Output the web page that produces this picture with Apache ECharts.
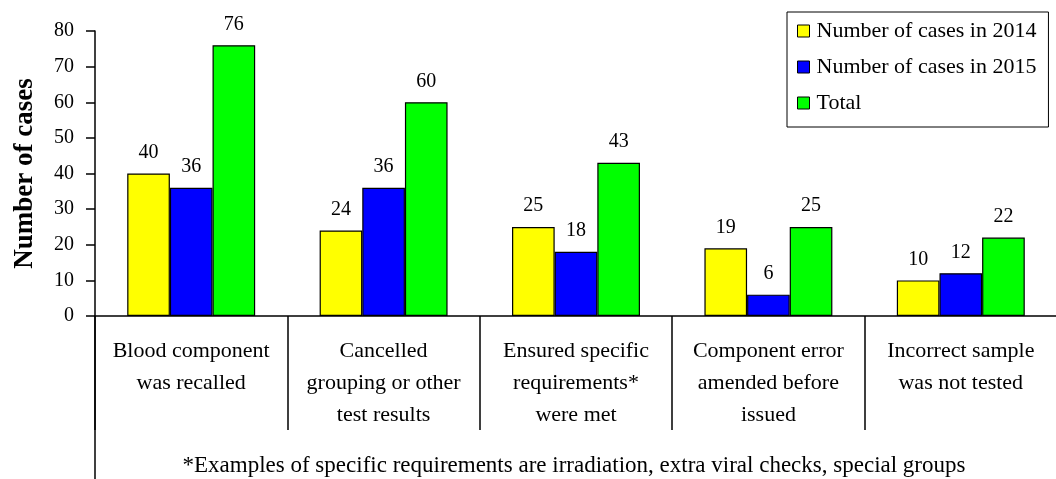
<!DOCTYPE html>
<html>
<head>
<meta charset="utf-8">
<script src="https://cdn.jsdelivr.net/npm/echarts@6/dist/echarts.min.js"></script>
<style>
  html, body { margin: 0; padding: 0; background: #fff; }
  #main { width: 1056px; height: 479px; }
</style>
</head>
<body>
<div id="main"></div>
<script>
var categories = [
  "Blood component\nwas recalled",
  "Cancelled\ngrouping or other\ntest results",
  "Ensured specific\nrequirements*\nwere met",
  "Component error\namended before\nissued",
  "Incorrect sample\nwas not tested"
];
var cases2014 = [40, 24, 25, 19, 10];
var cases2015 = [36, 36, 18, 6, 12];
var casesTotal = [76, 60, 43, 25, 22];
var seriesNames = ["Number of cases in 2014", "Number of cases in 2015", "Total"];
var seriesColors = ["#ffff00", "#0000ff", "#00ff00"];
var footnote = "*Examples of specific requirements are irradiation, extra viral checks, special groups";

var font = "Liberation Serif";
var seriesData = [cases2014, cases2015, casesTotal];

var myChart = echarts.init(document.getElementById("main"));

var option = {
  animation: false,
  textStyle: { fontFamily: font, color: "#000" },
  grid: { left: 95, right: -1, top: 31, bottom: 163, containLabel: false, outerBoundsMode: "none" },
  legend: {
    orient: "vertical",
    left: 787,
    top: 12,
    padding: [8, 12, 13, 10],
    itemGap: 14,
    itemWidth: 12,
    itemHeight: 12,
    borderColor: "#000",
    borderWidth: 1,
    icon: "rect",
    itemStyle: { borderColor: "#000", borderWidth: 1 },
    textStyle: { fontFamily: font, fontSize: 22, color: "#000", padding: [0, 0, 0, 2] },
    data: seriesNames
  },
  xAxis: {
    type: "category",
    data: categories,
    axisLine: { lineStyle: { color: "#000", width: 1.5 } },
    axisTick: { show: true, length: 114, lineStyle: { color: "#000", width: 1.5 } },
    axisLabel: {
      fontFamily: font,
      fontSize: 22,
      color: "#000",
      lineHeight: 32,
      margin: 19,
      interval: 0
    }
  },
  yAxis: {
    type: "value",
    min: 0,
    max: 80,
    interval: 10,
    name: "Number of cases",
    nameLocation: "middle",
    nameRotate: 90,
    nameGap: 56,
    nameTextStyle: { fontFamily: font, fontSize: 27, fontWeight: "bold", color: "#000" },
    splitLine: { show: false },
    axisLine: { show: true, lineStyle: { color: "#000", width: 1.5 } },
    axisTick: { show: true, length: 9, lineStyle: { color: "#000", width: 1.5 } },
    axisLabel: { fontFamily: font, fontSize: 20, color: "#000", margin: 21 }
  },
  series: seriesNames.map(function (name, i) {
    return {
      name: name,
      type: "bar",
      data: seriesData[i],
      barGap: "0%",
      barCategoryGap: "33.5%",
      itemStyle: { color: seriesColors[i], borderColor: "#000", borderWidth: 1.2 },
      label: {
        show: true,
        position: "top",
        distance: 11,
        fontFamily: font,
        fontSize: 20,
        color: "#000"
      }
    };
  }),
  graphic: [
    {
      type: "line",
      shape: { x1: 95, y1: 316, x2: 95, y2: 479 },
      style: { stroke: "#000", lineWidth: 1.5 }
    },
    {
      type: "text",
      x: 574,
      y: 466,
      style: {
        text: footnote,
        fontFamily: font,
        fontSize: 23,
        fill: "#000",
        textAlign: "center",
        textVerticalAlign: "middle"
      }
    }
  ]
};

myChart.setOption(option);
</script>
</body>
</html>
